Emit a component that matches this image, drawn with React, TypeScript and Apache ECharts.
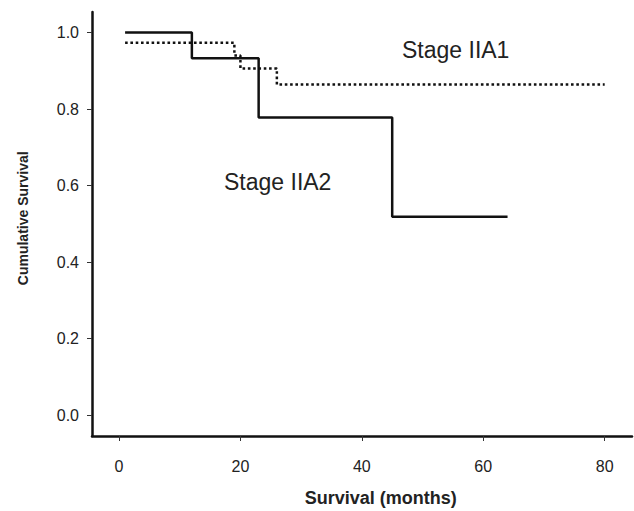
import React, { useEffect, useRef } from "react";
import * as echarts from "echarts";

// Stage IIA2 (solid)
const iia2Months = [1, 12, 23, 45, 64];
const iia2Survival = [1.0, 0.933, 0.778, 0.518, 0.518];
// Stage IIA1 (dotted)
const iia1Months = [1, 19, 20, 26, 80];
const iia1Survival = [0.973, 0.94, 0.906, 0.864, 0.864];

const xTicks = [0, 20, 40, 60, 80];
const yTicks = [0, 0.2, 0.4, 0.6, 0.8, 1.0];

const FONT = "'Liberation Sans', Arial, Helvetica, sans-serif";

export default function App() {
  const ref = useRef<HTMLDivElement>(null);
  useEffect(() => {
    if (!ref.current) return;
    const chart = echarts.init(ref.current, null, { renderer: "svg" });
    const axisCommon = {
      axisLine: { show: true, onZero: false, lineStyle: { color: "#111", width: 2.5 } },
      axisTick: { show: true, length: 5, inside: false, lineStyle: { color: "#333", width: 1 } },
      splitLine: { show: false },
    };
    chart.setOption({
      animation: false,
      backgroundColor: "#fff",
      grid: { left: 92, right: 2, top: 12, bottom: 75, containLabel: false },
      xAxis: {
        type: "value",
        min: -4.45,
        max: 84.5,
        ...axisCommon,
        axisTick: { ...axisCommon.axisTick, customValues: xTicks },
        axisLabel: {
          customValues: xTicks,
          margin: 22,
          fontSize: 16,
          color: "#222",
          fontFamily: FONT,
          formatter: (v: number) => String(v),
        },
      },
      yAxis: {
        type: "value",
        min: -0.0549,
        max: 1.0536,
        ...axisCommon,
        axisTick: { ...axisCommon.axisTick, customValues: yTicks },
        axisLabel: {
          customValues: yTicks,
          margin: 13,
          fontSize: 16,
          color: "#222",
          fontFamily: FONT,
          formatter: (v: number) => v.toFixed(1),
        },
      },
      series: [
        {
          name: "Stage IIA2",
          type: "line",
          step: "end",
          showSymbol: false,
          symbol: "none",
          data: iia2Months.map((m, i) => [m, iia2Survival[i]]),
          lineStyle: { color: "#111", width: 2.5, type: "solid" },
        },
        {
          name: "Stage IIA1",
          type: "line",
          step: "end",
          showSymbol: false,
          symbol: "none",
          data: iia1Months.map((m, i) => [m, iia1Survival[i]]),
          lineStyle: { color: "#111", width: 2.5, type: [2.6, 2.7] },
        },
      ],
      graphic: [
        {
          type: "text",
          x: 402,
          y: 49.5,
          style: {
            text: "Stage IIA1",
            fontSize: 23,
            fontFamily: FONT,
            fill: "#222",
            textAlign: "left",
            textVerticalAlign: "middle",
          },
        },
        {
          type: "text",
          x: 224,
          y: 182.3,
          style: {
            text: "Stage IIA2",
            fontSize: 23,
            fontFamily: FONT,
            fill: "#222",
            textAlign: "left",
            textVerticalAlign: "middle",
          },
        },
        {
          type: "text",
          x: 380.8,
          y: 497.5,
          style: {
            text: "Survival (months)",
            fontSize: 18,
            fontWeight: "bold",
            fontFamily: FONT,
            fill: "#222",
            textAlign: "center",
            textVerticalAlign: "middle",
          },
        },
        {
          type: "text",
          x: 22.7,
          y: 218.3,
          rotation: Math.PI / 2,
          style: {
            text: "Cumulative Survival",
            fontSize: 14,
            fontWeight: "bold",
            fontFamily: FONT,
            fill: "#222",
            textAlign: "center",
            textVerticalAlign: "middle",
          },
        },
      ],
    });
    return () => chart.dispose();
  }, []);
  return (
    <div
      ref={ref}
      style={{ position: "fixed", left: 0, top: 0, width: 634, height: 511, background: "#fff" }}
    />
  );
}
